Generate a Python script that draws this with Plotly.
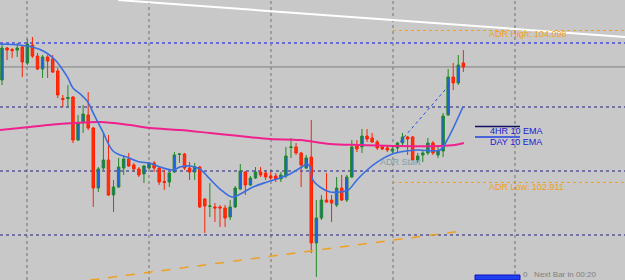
import plotly.graph_objects as go

# ---------------- data (USDJPY-like 4H candles) ----------------
bar_index = list(range(92))
opens = [103.711, 103.961, 103.949, 103.945, 103.969, 103.844, 103.984, 103.898, 103.797, 103.891,
         103.875, 103.781, 103.566, 103.566, 103.578, 103.242, 103.383, 103.438, 103.336, 102.867,
         103.023, 103.086, 102.813, 102.875, 103.023, 103.094, 103.047, 103.016, 102.977, 103.023,
         103.063, 103.023, 102.918, 102.914, 102.992, 103.129, 103.133, 103.023, 102.992, 103.031,
         102.781, 102.723, 102.719, 102.719, 102.711, 102.641, 102.719, 102.859, 102.992, 102.891,
         102.945, 102.992, 102.984, 102.961, 102.961, 102.938, 102.961, 103.184, 103.188, 103.141,
         103.023, 103.109, 102.438, 102.633, 102.773, 102.773, 102.734, 102.867, 102.773, 102.953,
         103.195, 103.188, 103.273, 103.258, 103.227, 103.188, 103.180, 103.156, 103.180, 103.219,
         103.266, 103.266, 103.086, 103.125, 103.141, 103.219, 103.125, 103.156, 103.438, 103.734,
         103.688, 103.844]
highs = [103.992, 103.969, 103.961, 104.000, 103.984, 104.031, 104.047, 103.922, 103.906, 103.906,
         103.906, 103.805, 103.594, 103.672, 103.586, 103.438, 103.516, 103.617, 103.344, 103.031,
         103.297, 103.281, 102.930, 103.102, 103.125, 103.141, 103.063, 103.031, 103.047, 103.070,
         103.078, 103.031, 103.008, 102.992, 103.148, 103.141, 103.141, 103.070, 103.063, 103.039,
         102.789, 102.906, 102.750, 102.734, 102.734, 102.773, 102.883, 103.055, 103.000, 102.961,
         103.031, 103.031, 103.008, 102.992, 102.984, 102.992, 103.188, 103.258, 103.219, 103.148,
         103.125, 103.398, 102.773, 102.813, 102.984, 102.813, 102.953, 102.969, 102.969, 103.242,
         103.242, 103.328, 103.328, 103.297, 103.242, 103.203, 103.203, 103.203, 103.227, 103.297,
         103.273, 103.273, 103.141, 103.164, 103.258, 103.234, 103.188, 103.453, 103.797, 103.844,
         103.906, 103.945]
lows = [103.672, 103.867, 103.883, 103.891, 103.734, 103.828, 103.883, 103.789, 103.727, 103.727,
        103.766, 103.570, 103.500, 103.500, 103.219, 103.234, 103.297, 103.320, 102.719, 102.836,
        103.008, 102.805, 102.680, 102.867, 102.969, 103.031, 102.992, 102.953, 102.906, 103.016,
        102.992, 102.891, 102.852, 102.875, 102.984, 103.063, 103.008, 102.930, 102.930, 102.711,
        102.516, 102.641, 102.602, 102.563, 102.563, 102.617, 102.711, 102.852, 102.813, 102.883,
        102.938, 102.953, 102.930, 102.930, 102.914, 102.914, 102.945, 103.102, 103.125, 102.875,
        103.016, 102.359, 102.172, 102.617, 102.750, 102.602, 102.719, 102.766, 102.758, 102.945,
        103.148, 103.141, 103.227, 103.219, 103.164, 103.164, 103.148, 103.141, 103.141, 103.188,
        103.125, 103.078, 103.063, 103.070, 103.125, 103.125, 103.102, 103.109, 103.430, 103.633,
        103.672, 103.773]
closes = [103.961, 103.945, 103.941, 103.961, 103.852, 103.992, 103.898, 103.797, 103.891, 103.859,
          103.773, 103.594, 103.559, 103.574, 103.242, 103.375, 103.445, 103.336, 102.867, 103.016,
          103.086, 102.813, 102.875, 103.031, 103.094, 103.039, 103.016, 102.969, 103.039, 103.063,
          103.023, 102.914, 102.910, 102.984, 103.125, 103.133, 103.023, 102.992, 103.031, 102.719,
          102.727, 102.727, 102.711, 102.711, 102.633, 102.719, 102.867, 103.000, 102.891, 102.945,
          102.992, 102.969, 102.953, 102.945, 102.938, 102.969, 103.117, 103.188, 103.141, 103.047,
          103.102, 102.438, 102.633, 102.773, 102.758, 102.750, 102.867, 102.773, 102.953, 103.188,
          103.172, 103.273, 103.250, 103.227, 103.180, 103.172, 103.164, 103.172, 103.219, 103.266,
          103.250, 103.086, 103.117, 103.141, 103.219, 103.141, 103.156, 103.430, 103.734, 103.688,
          103.828, 103.813]

# 4HR 10 EMA (blue)
ema4h_x = [-0.5, 3.5, 6, 8.5, 10.5, 12, 13, 14, 15.4, 16.8, 18, 18.7, 19.9, 20.9, 21.9, 23.3, 24.6,
           27.2, 29, 31.2, 33.7, 35.1, 37.1, 39, 41, 43, 45.4, 47, 49.5, 52.3, 54.8, 56.8, 58.8,
           60.2, 60.8, 61.3, 62.7, 64.7, 66.7, 68.3, 70, 72, 74, 76.5, 78.5, 81.9, 86.4, 87.8, 90.9]
ema4h_y = [103.992, 103.984, 103.969, 103.930, 103.867, 103.789, 103.727, 103.648, 103.602, 103.547,
           103.453, 103.398, 103.305, 103.219, 103.156, 103.125, 103.109, 103.070, 103.063, 103.031,
           103.008, 103.031, 103.039, 103.016, 102.938, 102.859, 102.797, 102.820, 102.875, 102.914,
           102.945, 102.977, 103.023, 103.055, 103.031, 102.930, 102.875, 102.836, 102.836, 102.852,
           102.930, 103.008, 103.070, 103.125, 103.148, 103.164, 103.164, 103.242, 103.500]

# Day 10 EMA (pink)
emaday_x = [-0.5, 5.5, 11.4, 19.3, 25.2, 29.2, 35.1, 41, 46.9, 52.9, 58.8, 64.7, 70.6, 78.5, 86.4, 89.3, 91.1]
emaday_y = [103.320, 103.344, 103.367, 103.383, 103.359, 103.336, 103.320, 103.297, 103.273, 103.250,
            103.242, 103.211, 103.203, 103.195, 103.195, 103.203, 103.219]

# projection (blue dotted), trend lines
proj_x = [78.5, 88.4]
proj_y = [103.227, 103.680]
white_trend_x = [22.9, 122.9]
white_trend_y = [104.336, 104.047]
orange_trend_x = [17.4, 90.7]
orange_trend_y = [102.148, 102.531]

adr_high = 104.098
adr_low = 102.911
adr_start_x = 77.1
bid_price = 103.813
grid_prices = [104.0, 103.5, 103.0, 102.5]
grid_times = [4.93, 28.99, 53.06, 77.12, 101.18]

X_RANGE = [-0.394, 122.88]
Y_RANGE = [102.1485, 104.336]

BG = "#c8c8c8"
fig = go.Figure()

# grid
for gx in grid_times:
    fig.add_shape(type="line", x0=gx, x1=gx, y0=0, y1=1, xref="x", yref="paper",
                  line=dict(color="#707070", width=1, dash="dot"), layer="below")
for i, gp in enumerate(grid_prices):
    fig.add_shape(type="line", x0=0, x1=1, y0=gp, y1=gp, xref="paper", yref="y",
                  line=dict(color="#6a6ad8" if i == 0 else "#202080", width=2 if i == 0 else 1, dash="dot"),
                  layer="below")
fig.add_shape(type="line", x0=0, x1=1, y0=bid_price, y1=bid_price, xref="paper", yref="y",
              line=dict(color="#808080", width=1), layer="below")

# ADR lines
for lvl in (adr_high, adr_low):
    fig.add_trace(go.Scatter(x=[adr_start_x, X_RANGE[1]], y=[lvl, lvl], mode="lines",
                             line=dict(color="#f0a020", width=1, dash="dot"), hoverinfo="skip"))

# trend lines
fig.add_trace(go.Scatter(x=white_trend_x, y=white_trend_y, mode="lines",
                         line=dict(color="#ffffff", width=2), hoverinfo="skip"))
fig.add_trace(go.Scatter(x=orange_trend_x, y=orange_trend_y, mode="lines",
                         line=dict(color="#f0a020", width=1.5, dash="dash"), hoverinfo="skip"))

# pink EMA
fig.add_trace(go.Scatter(x=emaday_x, y=emaday_y, mode="lines", line_shape="spline",
                         line=dict(color="#f0208c", width=2), hoverinfo="skip"))

# candles
fig.add_trace(go.Candlestick(
    x=bar_index, open=opens, high=highs, low=lows, close=closes,
    increasing=dict(line=dict(color="#208a20", width=1), fillcolor="#2060e0"),
    decreasing=dict(line=dict(color="#ff2000", width=1), fillcolor="#ff3010"),
    whiskerwidth=0, hoverinfo="skip"))

# blue 4H EMA
fig.add_trace(go.Scatter(x=ema4h_x, y=ema4h_y, mode="lines", line_shape="spline",
                         line=dict(color="#3a6ee0", width=1.6), hoverinfo="skip"))
fig.add_trace(go.Scatter(x=proj_x, y=proj_y, mode="lines",
                         line=dict(color="#2a4ee0", width=1, dash="dot"), hoverinfo="skip"))

FONT = "Liberation Sans, Arial, sans-serif"
def px(x):
    return x / 625.0
def py(y):
    return 1 - y / 280.0

ann = [
    dict(text="ADR High: 104.098", x=px(487), y=py(34), color="#f0a020", size=9),
    dict(text="ADR Low: 102.911", x=px(487), y=py(187), color="#f0a020", size=9),
    dict(text="ADR Start", x=px(378), y=py(162), color="#7fa2aa", size=9),
    dict(text="4HR 10 EMA", x=px(488), y=py(131), color="#1a1ad0", size=9),
    dict(text="DAY 10 EMA", x=px(488), y=py(142), color="#1a1ad0", size=9),
    dict(text="0   Next Bar in 00:20", x=px(521), y=py(274.5), color="#808080", size=8),
]
for a in ann:
    fig.add_annotation(text=a["text"], x=a["x"], y=a["y"], xref="paper", yref="paper",
                       xanchor="left", yanchor="middle", showarrow=False,
                       font=dict(family=FONT, size=a["size"], color=a["color"]))

fig.add_shape(type="line", xref="paper", yref="paper", x0=px(475), x1=px(520), y0=py(126.5), y1=py(126.5),
              line=dict(color="#101060", width=1.5))
fig.add_shape(type="line", xref="paper", yref="paper", x0=px(475), x1=px(520), y0=py(137), y1=py(137),
              line=dict(color="#2040e0", width=1.5))
fig.add_shape(type="rect", xref="paper", yref="paper", x0=px(475), x1=px(520), y0=py(280), y1=py(275),
              line=dict(color="#1010c0", width=1), fillcolor="#2040f0")

fig.update_layout(
    width=625, height=280, margin=dict(l=0, r=0, t=0, b=0),
    paper_bgcolor=BG, plot_bgcolor=BG, showlegend=False,
    xaxis=dict(range=X_RANGE, visible=False, rangeslider=dict(visible=False), fixedrange=True),
    yaxis=dict(range=Y_RANGE, visible=False, fixedrange=True),
)

fig.write_html("out.html")
